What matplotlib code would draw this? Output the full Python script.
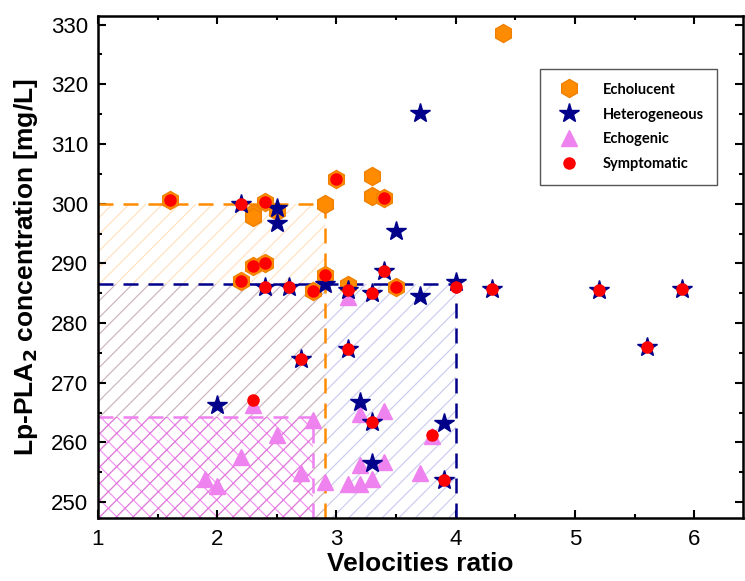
import matplotlib
matplotlib.use('Agg')
import matplotlib.pyplot as plt
from matplotlib.patches import Rectangle
from matplotlib.ticker import MultipleLocator

plt.rcParams['font.family'] = ['Liberation Sans', 'DejaVu Sans']
plt.rcParams['hatch.linewidth'] = 0.8

# Echolucent plaques
echo_x = [1.6, 2.3, 2.3, 2.4, 2.5, 2.9, 3.0, 3.3, 3.3, 3.4, 2.2, 2.3, 2.4, 2.8, 2.9, 3.1, 3.5, 4.4]
echo_y = [300.7, 298.4, 297.7, 300.2, 298.7, 299.9, 304.2, 304.7, 301.3, 300.9,
          287.1, 289.5, 290.0, 285.3, 288.0, 286.4, 286.1, 328.6]

# Heterogeneous plaques
hetero_x = [2.2, 2.5, 2.5, 3.7, 3.5, 3.4, 2.4, 2.6, 2.9, 3.1, 3.3, 3.7, 4.0, 4.3, 5.2,
            5.9, 5.6, 2.7, 3.1, 2.0, 3.2, 3.3, 3.9, 3.3, 3.9]
hetero_y = [300.0, 299.2, 296.8, 315.2, 295.4, 288.8, 286.0, 286.0, 286.6, 285.6, 285.0,
            284.6, 286.8, 285.7, 285.5, 285.7, 276.0, 273.9, 275.6, 266.3, 266.7, 263.5,
            263.3, 256.6, 253.7]

# Echogenic plaques
echog_x = [1.9, 2.0, 2.2, 2.3, 2.5, 2.7, 2.8, 2.9, 3.1, 3.1, 3.2, 3.2, 3.2, 3.3, 3.4, 3.4, 3.7, 3.8]
echog_y = [253.8, 252.7, 257.5, 266.3, 261.2, 254.8, 263.8, 253.4, 284.4, 253.0,
           264.8, 256.2, 253.0, 253.8, 265.2, 256.8, 254.9, 261.1]

# Symptomatic patients
symp_x = [1.6, 2.2, 2.4, 3.0, 3.4, 2.2, 2.3, 2.4, 2.4, 2.6, 2.8, 2.9, 3.1, 3.3, 3.4, 3.5,
          4.0, 4.3, 5.2, 5.9, 5.6, 2.7, 3.1, 2.3, 3.3, 3.8, 3.9]
symp_y = [300.7, 300.0, 300.2, 304.2, 300.9, 287.1, 289.5, 290.0, 286.0, 286.0, 285.3,
          288.0, 285.6, 285.0, 288.8, 286.1, 286.0, 285.7, 285.5, 285.7, 276.0, 273.9,
          275.6, 267.1, 263.5, 261.2, 253.7]

# cut-off boxes: echolucent, heterogeneous, echogenic
cut_x = [2.9, 4.0, 2.8]
cut_y = [300.0, 286.6, 264.2]

ORANGE = '#ff8c00'
NAVY = '#00008b'
VIOLET = '#ee82ee'
RED = '#ff0000'

XMIN, XMAX = 1.0, 6.41
YMIN, YMAX = 247.3, 331.4

fig = plt.figure(figsize=(7.45, 5.81), dpi=100)
ax = fig.add_axes([0.1315, 0.108, 0.866, 0.864])

# hatched regions
hatch_cols = [(1.0, 0.6, 0.15, 0.3), (0.3, 0.3, 0.8, 0.3), (0.93, 0.35, 0.93, 0.7)]
hatches = ['//', '//', 'xx']
for cx, cy, hc, hp in zip(cut_x, cut_y, hatch_cols, hatches):
    ax.add_patch(Rectangle((XMIN, YMIN), cx - XMIN, cy - YMIN, facecolor='none',
                           edgecolor=hc, hatch=hp, lw=0, zorder=1))

# dashed cut-off lines
line_cols = [ORANGE, NAVY, VIOLET]
for cx, cy, lc in zip(cut_x, cut_y, line_cols):
    ax.plot([XMIN, cx], [cy, cy], color=lc, lw=1.8, dashes=(6, 4), zorder=2)
    ax.plot([cx, cx], [YMIN, cy], color=lc, lw=1.8, dashes=(6, 4), zorder=2)

ax.plot(echog_x, echog_y, ls='none', marker='^', ms=12, color=VIOLET, mec=VIOLET,
        zorder=3, label='Echogenic')
ax.plot(echo_x, echo_y, ls='none', marker='h', ms=13, color=ORANGE, mec='#f08000',
        zorder=4, label='Echolucent')
ax.plot(hetero_x, hetero_y, ls='none', marker='*', ms=15, color=NAVY, mec=NAVY,
        zorder=5, label='Heterogeneous')
ax.plot(symp_x, symp_y, ls='none', marker='o', ms=8, color=RED, mec=RED,
        zorder=6, label='Symptomatic')

ax.set_xlim(XMIN, XMAX)
ax.set_ylim(YMIN, YMAX)
ax.xaxis.set_major_locator(MultipleLocator(1))
ax.xaxis.set_minor_locator(MultipleLocator(0.5))
ax.yaxis.set_major_locator(MultipleLocator(10))
ax.yaxis.set_minor_locator(MultipleLocator(5))
ax.tick_params(which='both', direction='in', top=True, right=True, width=1.5)
ax.tick_params(which='major', length=6, labelsize=16)
ax.tick_params(which='minor', length=3)
ax.tick_params(axis='x', pad=8)
ax.tick_params(axis='y', pad=7)
for s in ax.spines.values():
    s.set_linewidth(1.8)

ax.set_xlabel('Velocities ratio', fontsize=19, fontweight='bold', labelpad=1)
ax.set_ylabel(r'Lp-PLA$_\mathbf{2}$ concentration [mg/L]', fontsize=19,
              fontweight='bold', labelpad=8)

h, l = ax.get_legend_handles_labels()
order = [1, 2, 0, 3]
leg = ax.legend([h[i] for i in order], [l[i] for i in order],
                loc='upper left', bbox_to_anchor=(0.685, 0.894),
                prop={'family': 'Lato', 'weight': 'bold', 'size': 10.5},
                fancybox=False, edgecolor='#555555', framealpha=1,
                borderpad=0.9, labelspacing=0.75, handletextpad=1.2,
                handlelength=2.2, borderaxespad=0)
leg.get_frame().set_linewidth(1.0)

fig.savefig('out.png', dpi=100)
